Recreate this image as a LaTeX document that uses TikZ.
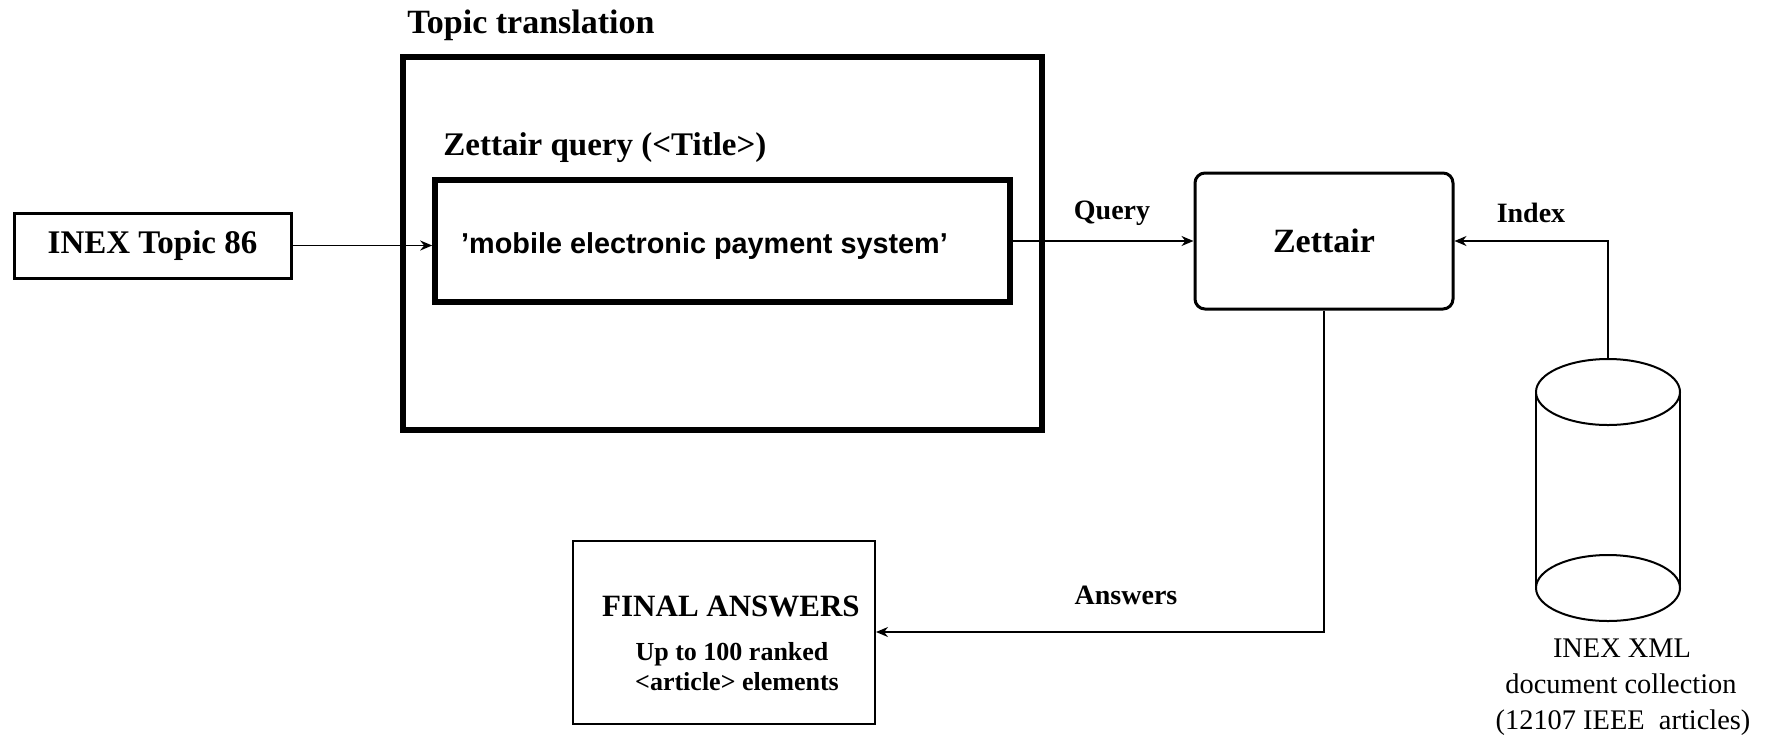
\documentclass[tikz,border=0pt]{standalone}
\usepackage{fontspec}
\setmainfont{Liberation Serif}
\newfontfamily\hvfont{Liberation Sans}
\usetikzlibrary{arrows.meta,calc}
\begin{document}
\begin{tikzpicture}[x=0.5pt,y=-0.5pt,
  thickbox/.style={draw, line width=2.8pt, inner sep=0pt},
  midbox/.style={draw, line width=1.5pt, inner sep=0pt},
  thinbox/.style={draw, line width=1pt, inner sep=0pt},
  txt/.style={inner sep=0pt, anchor=base},
  bigb/.style={font=\bfseries\fontsize{16.5}{19}\selectfont},
  lbl/.style={inner sep=0pt, font=\bfseries\fontsize{14}{16}\selectfont},
  smallb/.style={font=\bfseries\fontsize{13}{15}\selectfont},
  reg/.style={font=\fontsize{14.2}{17}\selectfont},
  conn/.style={line width=0.8pt, -{Stealth[length=6pt,width=5pt]}},
  cyl/.style={line width=1pt},
  ]
\useasboundingbox (0,0) rectangle (1772,735);

% Topic translation group
\node[thickbox, minimum width=319.5pt, minimum height=186.5pt] (outer) at (722.5,243.5) {};
\node[txt, anchor=base west, font=\bfseries\fontsize{17}{20}\selectfont] (ttl) at (407,33) {Topic translation};
\node[txt, anchor=base west, bigb] (zq) at (443,155) {Zettair query (<Title>)};
\node[thickbox, minimum width=287.5pt, minimum height=61pt] (inner) at (722.5,241) {};
\node[txt, font=\hvfont\bfseries\fontsize{14.4}{17}\selectfont] (mob) at (704.5,253) {’mobile electronic payment system’};

% INEX topic
\node[midbox, minimum width=138.5pt, minimum height=32.5pt, bigb] (inex) at (152.5,245.5) {INEX Topic 86};

% Zettair
\node[midbox, rounded corners=5pt, minimum width=129pt, minimum height=68pt, font=\bfseries\fontsize{17}{20}\selectfont] (zet) at (1324,241) {Zettair};

% Final answers
\node[thinbox, minimum width=151pt, minimum height=91.5pt] (final) at (724,632) {};
\node[txt, font=\bfseries\fontsize{15.5}{18}\selectfont] (fa) at (731,616) {FINAL ANSWERS};
\node[txt, smallb] (fa2) at (732,660) {Up to 100 ranked};
\node[txt, smallb] (fa3) at (737,690) {<article> elements};

% Cylinder (document collection)
\draw[cyl] (1536,392) -- (1536,588) (1680,392) -- (1680,588);
\draw[cyl] (1608,392) ellipse [x radius=36pt, y radius=16.5pt];
\draw[cyl] (1608,588) ellipse [x radius=36pt, y radius=16.5pt];
\coordinate (cyltop) at (1608,359);
\node[txt, reg] (c1) at (1622,657) {INEX XML};
\node[txt, reg] (c2) at (1621,693) {document collection};
\node[txt, reg] (c3) at (1623,729) {(12107 IEEE\ \ articles)};

% Connectors
\draw[conn] (inex.east) -- (inex.east -| inner.west);
\draw[conn] (inner.east) -- (zet.west);
\draw[conn] (cyltop) |- (zet.east);
\draw[conn] (zet.south) |- (final.east);

% Connector labels
\node[lbl] (lq) at (1112,213) {Query};
\node[lbl] (li) at (1531,213) {Index};
\node[lbl] (la) at (1126,595) {Answers};
\end{tikzpicture}
\end{document}
